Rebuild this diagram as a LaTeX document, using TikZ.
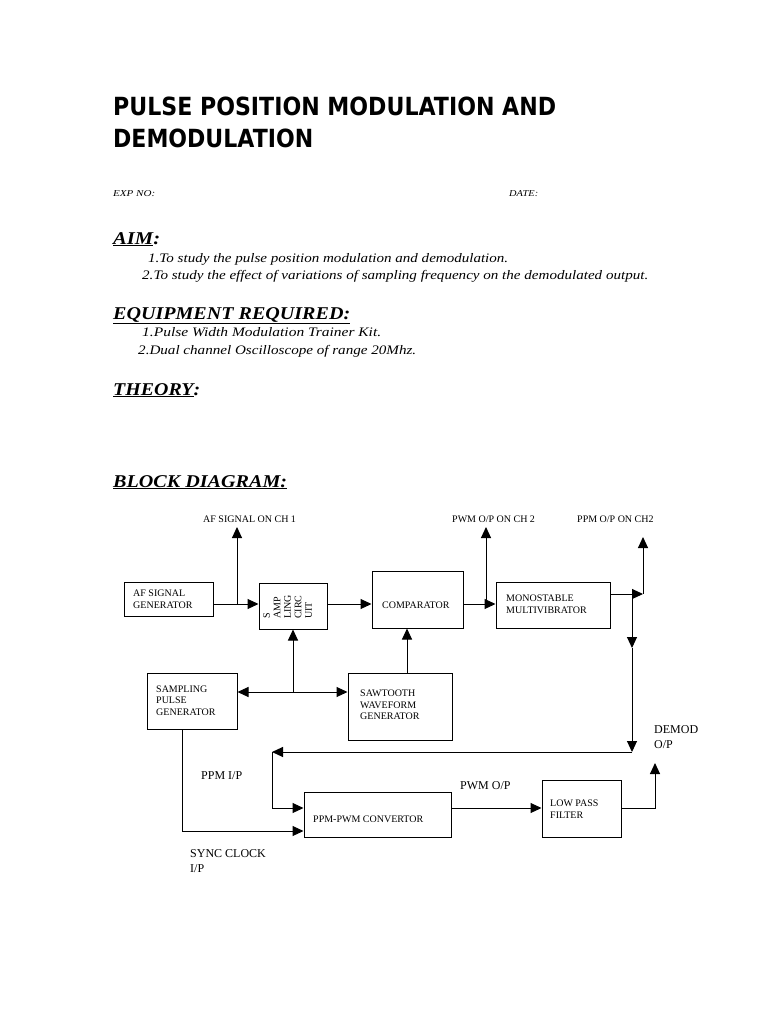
\documentclass[tikz,border=0pt]{standalone}
\usepackage{fontspec}
\usepackage{graphicx}
\usetikzlibrary{arrows.meta}
\setmainfont{Liberation Serif}
\newfontfamily\dvsans{DejaVu Sans}
\newcommand\fitw[2]{\resizebox{#1}{\height}{#2}}
\newcommand\titlef{\dvsans\bfseries\fontsize{25}{30}\selectfont}
\newcommand\headf{\bfseries\itshape\fontsize{18}{22}\selectfont}
\newcommand\bodyf{\itshape\fontsize{13}{16}\selectfont}
\newcommand\smallitf{\itshape\fontsize{9}{11}\selectfont}
\newcommand\blkf{\fontsize{10}{11.7}\selectfont}
\newcommand\labf{\fontsize{12}{15.5}\selectfont}
\tikzset{
  txt/.style={anchor=base west, inner sep=0pt},
  btxt/.style={anchor=west, inner sep=0pt, align=left, font=\blkf},
  ltxt/.style={anchor=west, inner sep=0pt, align=left, font=\labf},
  blk/.style={draw, line width=1pt, inner sep=0pt},
  arr/.style={line width=1pt, -{Triangle[length=11pt,width=10pt]}},
  wire/.style={line width=1pt}
}
\begin{document}
\begin{tikzpicture}[x=1pt,y=-1pt]
\path[use as bounding box, fill=white] (0,0) rectangle (768,1024);

% ---- header text ----
\node[txt] (t1) at (113,116) {\titlef\fitw{443pt}{PULSE POSITION MODULATION AND}};
\node[txt] (t2) at (113,148) {\titlef\fitw{200pt}{DEMODULATION}};
\node[txt] (exp) at (113,197) {\smallitf\fitw{42pt}{EXP NO:}};
\node[txt] (date) at (509,197) {\smallitf\fitw{29pt}{DATE:}};
\node[txt] (aim) at (113,244) {\headf\fitw{47pt}{\underline{AIM}:}};
\node[txt] (a1) at (148,262) {\bodyf\fitw{360pt}{1.To study the pulse position modulation and demodulation.}};
\node[txt] (a2) at (142,279) {\bodyf\fitw{506pt}{2.To study the effect of variations of sampling frequency on the demodulated output.}};
\node[txt] (eq) at (113,319) {\headf\fitw{237pt}{\underline{EQUIPMENT REQUIRED:}}};
\node[txt] (e1) at (142,336) {\bodyf\fitw{239pt}{1.Pulse Width Modulation Trainer Kit.}};
\node[txt] (e2) at (138,354) {\bodyf\fitw{278pt}{2.Dual channel Oscilloscope of range 20Mhz.}};
\node[txt] (th) at (113,395) {\headf\fitw{87pt}{\underline{THEORY}:}};
\node[txt] (bd) at (113,487) {\headf\fitw{174pt}{\underline{BLOCK DIAGRAM:}}};

% ---- blocks ----
\node[blk, minimum width=89pt, minimum height=34pt] (af) at (168.5,599) {};
\node[blk, minimum width=68pt, minimum height=46pt] (samp) at (293,606) {};
\node[blk, minimum width=91pt, minimum height=57pt] (comp) at (417.5,599.5) {};
\node[blk, minimum width=114pt, minimum height=46pt] (mono) at (553,605) {};
\node[blk, minimum width=90pt, minimum height=56pt] (spg) at (192,701) {};
\node[blk, minimum width=104pt, minimum height=67pt] (saw) at (400,706.5) {};
\node[blk, minimum width=147pt, minimum height=45pt] (ppm) at (377.5,814.5) {};
\node[blk, minimum width=79pt, minimum height=57pt] (lpf) at (581.5,808.5) {};

% ---- block texts ----
\node[btxt] (afT) at (133,599) {AF SIGNAL\\GENERATOR};
\node[btxt, rotate=90, anchor=north west, font=\fontsize{10}{10.5}\selectfont] (sampT) at (263,619) {S\\AMP\\LING\\CIRC\\UIT};
\node[btxt] (compT) at (382,605) {COMPARATOR};
\node[btxt] (monoT) at (506,604.5) {MONOSTABLE\\MULTIVIBRATOR};
\node[btxt] (spgT) at (156,700.5) {SAMPLING\\PULSE\\GENERATOR};
\node[btxt] (sawT) at (360,705) {SAWTOOTH\\WAVEFORM\\GENERATOR};
\node[btxt] (ppmT) at (313,819) {PPM-PWM CONVERTOR};
\node[btxt] (lpfT) at (550,809) {LOW PASS\\FILTER};

% ---- labels ----
\node[btxt] (l1) at (203,519) {AF SIGNAL ON CH 1};
\node[btxt] (l2) at (452,519) {PWM O/P ON CH 2};
\node[btxt] (l3) at (577,519) {PPM O/P ON CH2};
\node[ltxt] (l4) at (654,737) {DEMOD\\O/P};
\node[ltxt] (l5) at (201,776) {PPM I/P};
\node[ltxt] (l6) at (460,786) {PWM O/P};
\node[ltxt] (l7) at (190,861) {SYNC CLOCK\\I/P};

% ---- coordinates ----
\coordinate (r1) at (0,604);
\coordinate (j1) at (237,604);
\coordinate (o1) at (237,527);
\coordinate (j2) at (486,604);
\coordinate (o2) at (486,527);
\coordinate (r2) at (0,594);
\coordinate (j3) at (643,594);
\coordinate (o3) at (643,537);
\coordinate (j4) at (632,594);
\coordinate (m4) at (632,648);
\coordinate (c4) at (632,752);
\coordinate (c5) at (272,752);
\coordinate (r3) at (0,808);
\coordinate (r4) at (0,831);
\coordinate (c6) at (182,831);
\coordinate (c7) at (655,808);
\coordinate (o7) at (655,763);
\coordinate (j5) at (293,692);
\coordinate (r5) at (0,692);
\coordinate (x6) at (407,0);

% ---- connectors ----
\draw[arr] (af.east |- r1) -- (samp.west |- r1);
\draw[arr] (j1) -- (o1);
\draw[arr] (samp.east |- r1) -- (comp.west |- r1);
\draw[arr] (comp.east |- r1) -- (mono.west |- r1);
\draw[arr] (j2) -- (o2);
\draw[arr] (mono.east |- r2) -- (j3);
\draw[arr] (j3) -- (o3);
\draw[arr] (j4) -- (m4);
\draw[arr] (m4) -- (c4);
\draw[arr] (c4) -- (c5);
\draw[arr] (c5) |- (ppm.west |- r3);
\draw[arr] (spg.south -| c6) |- (ppm.west |- r4);
\draw[arr] (ppm.east |- r3) -- (lpf.west |- r3);
\draw[arr] (lpf.east |- r3) -- (c7) -- (o7);
\draw[arr] (j5) -- (spg.east |- r5);
\draw[arr] (j5) -- (saw.west |- r5);
\draw[arr] (j5) -- (samp.south);
\draw[arr] (saw.north -| x6) -- (comp.south -| x6);
\end{tikzpicture}
\end{document}
